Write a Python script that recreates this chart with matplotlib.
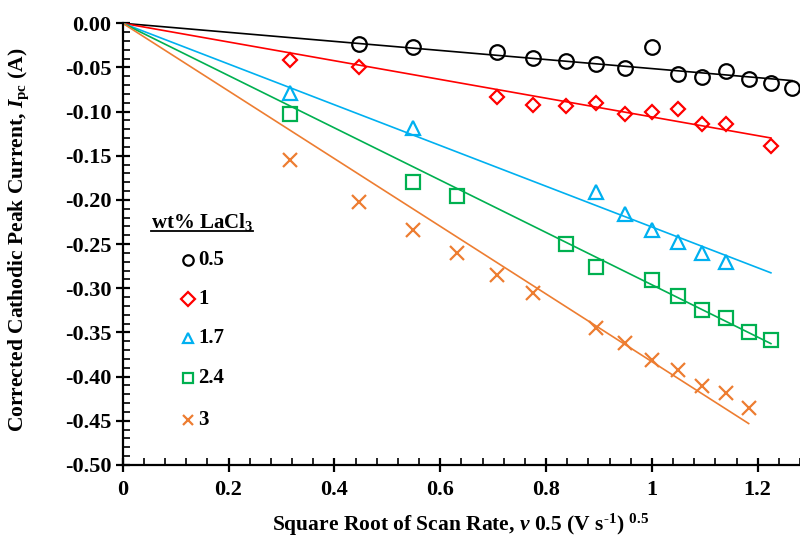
import numpy as np
import matplotlib
matplotlib.use("Agg")
import matplotlib.pyplot as plt
from matplotlib.lines import Line2D
from matplotlib.ticker import MultipleLocator, FormatStrFormatter, FuncFormatter

plt.rcParams['font.family'] = 'Liberation Serif'
plt.rcParams['font.weight'] = 'bold'
plt.rcParams['axes.unicode_minus'] = False
plt.rcParams['mathtext.fontset'] = 'custom'
plt.rcParams['mathtext.rm'] = 'Liberation Serif:bold'
plt.rcParams['mathtext.it'] = 'Liberation Serif:bold:italic'
plt.rcParams['mathtext.bf'] = 'Liberation Serif:bold'

# square root of scan rate (V/s)^0.5 and corrected cathodic peak current (A)
x_05 = [0.447, 0.548, 0.707, 0.775, 0.837, 0.894, 0.949, 1.0, 1.049, 1.095, 1.140, 1.183, 1.225, 1.265]
y_05 = [-0.023, -0.027, -0.032, -0.039, -0.043, -0.046, -0.051, -0.027, -0.057, -0.061, -0.054, -0.063, -0.068, -0.073]

x_1 = [0.316, 0.447, 0.707, 0.775, 0.837, 0.894, 0.949, 1.0, 1.049, 1.095, 1.140, 1.225]
y_1 = [-0.042, -0.050, -0.084, -0.093, -0.094, -0.090, -0.103, -0.100, -0.097, -0.114, -0.114, -0.139]

x_17 = [0.316, 0.548, 0.894, 0.949, 1.0, 1.049, 1.095, 1.140]
y_17 = [-0.079, -0.118, -0.191, -0.216, -0.234, -0.248, -0.260, -0.270]

x_24 = [0.316, 0.548, 0.632, 0.837, 0.894, 1.0, 1.049, 1.095, 1.140, 1.183, 1.225]
y_24 = [-0.103, -0.180, -0.195, -0.250, -0.276, -0.291, -0.309, -0.325, -0.334, -0.350, -0.359]

x_3 = [0.316, 0.447, 0.548, 0.632, 0.707, 0.775, 0.894, 0.949, 1.0, 1.049, 1.095, 1.140, 1.183]
y_3 = [-0.155, -0.202, -0.234, -0.260, -0.285, -0.305, -0.345, -0.362, -0.381, -0.393, -0.411, -0.419, -0.436]

labels = ["0.5", "1", "1.7", "2.4", "3"]
# trendlines forced through origin
slopes = [-0.0513, -0.106, -0.2306, -0.296, -0.383]
line_end = [1.265, 1.225, 1.225, 1.225, 1.183]

xs = [x_05, x_1, x_17, x_24, x_3]
ys = [y_05, y_1, y_17, y_24, y_3]
colors = ["black", "#FF0000", "#00B0F0", "#00B050", "#ED7D31"]
markers = ["o", "D", "^", "s", "x"]
msizes = [10.5, 7, 10, 10.5, 10]

fig = plt.figure(figsize=(8, 5.41), dpi=100)
ax = fig.add_axes([0.1534, 0.1405, 0.8466, 0.8165])

for x, y, s, xe, c, m, ms in zip(xs, ys, slopes, line_end, colors, markers, msizes):
    xl = np.array([0, xe])
    ax.plot(xl, s * xl, color=c, lw=1.2, zorder=2)
    ax.plot(x, y, ls="none", marker=m, ms=ms, mfc="none", mec=c, mew=1.6, zorder=3, clip_on=False)

ax.set_xlim(0, 1.28)
ax.set_ylim(-0.5, 0)
ax.spines['top'].set_visible(False)
ax.spines['right'].set_visible(False)
for sp in ['left', 'bottom']:
    ax.spines[sp].set_linewidth(1.6)

ax.xaxis.set_major_locator(MultipleLocator(0.2))
ax.xaxis.set_minor_locator(MultipleLocator(0.04))
ax.yaxis.set_major_locator(MultipleLocator(0.05))
ax.yaxis.set_minor_locator(MultipleLocator(0.01))
ax.yaxis.set_major_formatter(FormatStrFormatter('%.2f'))
ax.xaxis.set_major_formatter(FuncFormatter(lambda v, p: f"{v:g}"))
ax.tick_params(which='major', direction='inout', length=10, width=1.6, labelsize=16, pad=3)
ax.tick_params(which='minor', direction='in', length=5, width=1.2)
ax.tick_params(axis='x', which='major', pad=6)

fig.text(0.576, 0.03, "Square Root of Scan Rate, $\\mathit{v}$ 0.5 (V s$^{\u20101}$) $^{0.5}$",
         ha='center', va='center', fontsize=15.5)
fig.text(0.024, 0.556, r"Corrected Cathodic Peak Current, $\mathit{I}_{\rm pc}$ (A)",
         ha='center', va='center', rotation=90, fontsize=15.5)

# manual legend
fig.text(151 / 800, 1 - 222 / 541, r"wt% LaCl$_3$", ha='left', va='center', fontsize=15)
fig.add_artist(Line2D([151 / 800, 253 / 800], [1 - 231 / 541] * 2, color='black', lw=1.3))
leg_y = [260, 299, 338, 378, 420]
for lab, c, m, ly in zip(labels, colors, markers, leg_y):
    fig.add_artist(Line2D([188 / 800], [1 - ly / 541], marker=m, ms=7.5, mfc='none', mec=c, mew=1.6,
                          ls='none'))
    fig.text(198 / 800, 1 - ly / 541, lab, ha='left', va='center', fontsize=15)

fig.savefig("out.png", dpi=100)
